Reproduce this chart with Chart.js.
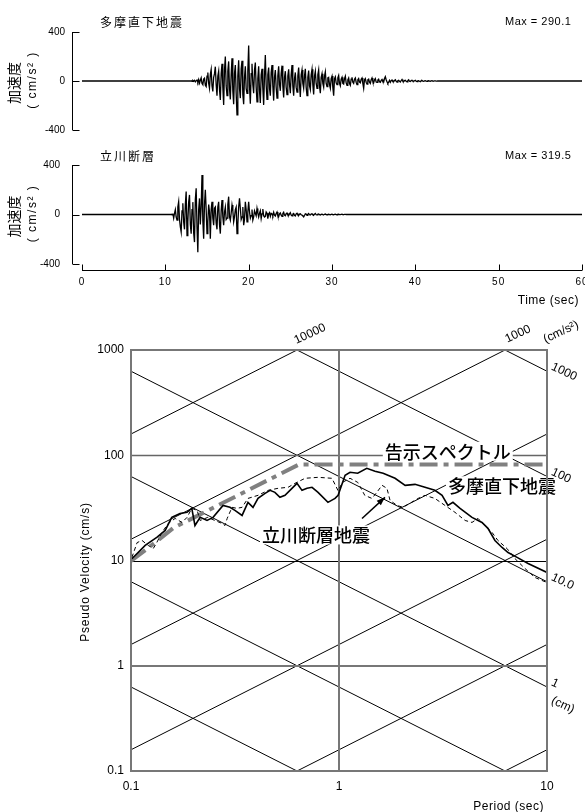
<!DOCTYPE html>
<html>
<head>
<meta charset="utf-8">
<script src="https://cdn.jsdelivr.net/npm/chart.js@4.4.1/dist/chart.umd.min.js"></script>
<style>
  body { margin: 0; background: #fff; }
  #wrap { position: relative; width: 585px; height: 812px; }
  canvas { position: absolute; left: 0; }
</style>
</head>
<body>
<div id="wrap">
  <canvas id="tama" width="585" height="140" style="top:0"></canvas>
  <canvas id="tachi" width="585" height="170" style="top:140px"></canvas>
  <canvas id="spec" width="585" height="502" style="top:310px"></canvas>
</div>
<script>
// ---- time histories (cm/s2), one value every 0.1 s from the start time ----
const dt = 0.1;
const tamaStart = 13.0;
const tamaAcc = [
  0, 2, -3, 4, -2, 5, -6, 3, 8, -10,
  12, -18, 6, 25, -20, -30, 15, 22, -35, -45,
  40, 70, -20, -60, 55, 95, -40, -85, 30, 60,
  117, -30, -120, 40, 80, -70, -155, 60, 140, -50,
  -196, 90, 200, -40, -120, 80, 160, -60, -150, 50,
  185, -80, -190, 60, 130, -100, -277, 40, 170, -60,
  -140, 100, 165, -110, -190, 30, 120, -60, -100, 80,
  290, -40, -185, 60, 140, -30, -100, 90, 150, -50,
  -170, 20, 120, -80, -180, 50, 100, -60, -195, 40,
  212, -30, -150, 50, 110, -60, -120, 70, 130, -40,
  -160, 30, 90, -50, -140, 40, 120, -30, -80, 60,
  125, -40, -135, 30, 80, -50, -110, 40, 95, -30,
  -100, 50, 130, -40, -120, 20, 70, -50, -90, 40,
  110, -30, -130, 50, 90, -20, -60, 40, 100, -50,
  -120, 30, 85, -40, -70, 50, 95, -30, -110, 40,
  80, -20, -60, 50, 90, -40, -100, 30, 60, -20,
  -50, 40, 75, -20, -45, 25, 30, -30, -60, 20,
  40, -50, -120, 20, 35, -15, -30, 25, 45, -20,
  -40, 15, 30, -20, -25, 20, 40, -15, -35, 10,
  25, -20, -35, 15, 30, -10, -20, 15, 25, -10,
  -30, 10, 20, -10, -15, 15, 25, -20, -60, 10,
  20, -10, -25, 10, 15, -10, -20, 10, 25, -5,
  -15, 10, 20, -8, -12, 8, 15, -6, -10, 5,
  12, -5, -8, 20, 35, 10, -6, -20, -10, 5,
  -10, 3, 8, -4, -6, 5, 10, -3, -8, 3,
  6, -3, -8, 4, 12, -2, -5, 3, 6, -2,
  -6, 4, 10, -2, -4, 3, 6, -2, -3, 2,
  5, -2, -4, 2, 3, -2, -5, 2, 4, -1,
  -3, 1, 2, -2, -3, 1, 2, -1, -2, 1,
  2, -1, -1, 1, 1, -1, -1, 0, 0, 0
];
const tachiStart = 10.6;
const tachiAcc = [
  0, 2, -3, 8,
  -30, 10, 40, -20, -45, 60, 103, -40, -100, -141,
  30, 90, -60, -120, 80, 185, -170, -60, 100, 158,
  -80, -155, 40, 100, -150, -223, 120, 212, -100, -305,
  40, 130, -80, 60, 320, -50, -196, 80, 199, 40,
  -155, -60, 80, 20, -196, 40, 103, -30, -87, 50,
  60, -70, -120, 60, 103, -80, -155, 30, 117, -20,
  -87, 20, 60, -40, -30, 80, 144, -20, -46, 10,
  76, 30, -60, -20, 40, 60, -155, -80, 60, 130,
  50, -40, -20, 60, -87, -40, 103, 40, -60, 20,
  103, 20, -30, -10, 40, -46, -20, 30, 10, -10,
  49, 10, -20, 10, 30, -33, 5, 44, -10, -20,
  -15, 20, 10, -33, 5, 15, -15, 10, 5, -10,
  18, -5, -12, 8, 20, -10, -18, 5, 12, -5,
  -15, 8, 18, -5, -10, 6, 12, -4, -8, 5,
  15, -5, -10, 4, 8, -6, -12, 5, 10, -3,
  -8, 3, 6, -2, -5, -12, -19, -8, 5, 3,
  -6, 2, 8, -2, -4, 3, 6, -2, -5, 2,
  8, -2, -3, 3, 5, -2, -4, 1, 3, -1,
  -3, 2, 4, -1, -2, 1, 3, -1, -2, 1,
  2, -1, -2, 1, 3, -1, -2, 1, 2, -1,
  -1, 1, 2, -1, -1, 1, 1, 0, 0, 0
];
const timeTicks = [0, 10, 20, 30, 40, 50, 60];
const accTicks = [400, 0, -400];

// ---- response spectra: period (sec) / pseudo velocity (cm/s) ----
const tamaT  = [0.101, 0.117, 0.133, 0.146, 0.157, 0.172, 0.186, 0.196, 0.203, 0.215, 0.232, 0.248, 0.277, 0.299, 0.316, 0.342, 0.365, 0.386, 0.408, 0.441, 0.466, 0.492, 0.520, 0.550, 0.594, 0.628, 0.664, 0.702, 0.742, 0.793, 0.885, 0.957, 0.99, 1.07, 1.13, 1.23, 1.36, 1.49, 1.63, 1.86, 2.08, 2.32, 2.59, 2.89, 3.13, 3.34, 3.53, 3.82, 4.36, 4.87, 5.20, 5.62, 6.08, 6.50, 7.18, 8.11, 10];
const tamaSv = [10.4, 13.9, 16.6, 19.3, 25.7, 28.0, 28.7, 31.3, 21.5, 25.7, 24.0, 25.7, 33.4, 32.0, 29.9, 26.8, 35.7, 32.0, 38.9, 43.4, 46.4, 44.4, 39.8, 41.6, 48.5, 54.1, 46.4, 48.5, 49.6, 44.4, 35.7, 38.9, 41.6, 64.5, 68.9, 67.4, 75.2, 70.5, 67.4, 60.4, 51.8, 52.9, 49.6, 46.4, 41.6, 33.4, 35.7, 31.3, 25.7, 23.0, 20.2, 15.5, 13.3, 11.9, 10.7, 9.36, 7.69];
const tachiT  = [0.101, 0.107, 0.113, 0.121, 0.128, 0.133, 0.141, 0.151, 0.163, 0.176, 0.186, 0.196, 0.208, 0.215, 0.234, 0.253, 0.274, 0.283, 0.290, 0.306, 0.323, 0.342, 0.365, 0.408, 0.456, 0.509, 0.569, 0.614, 0.687, 0.793, 0.925, 0.99, 1.04, 1.13, 1.23, 1.33, 1.44, 1.52, 1.61, 1.70, 1.76, 1.90, 2.03, 2.19, 2.40, 2.59, 2.89, 3.23, 3.61, 4.04, 4.36, 4.66, 5.03, 5.44, 5.81, 6.42, 7.02, 7.84, 8.76, 10];
const tachiSv = [10.7, 14.8, 15.5, 13.9, 13.0, 14.8, 18.5, 22.5, 25.1, 23.0, 25.7, 31.3, 29.9, 24.0, 25.7, 24.0, 22.5, 21.5, 25.1, 32.0, 31.3, 32.0, 38.9, 41.6, 46.4, 48.5, 49.6, 54.1, 60.4, 61.7, 60.4, 46.0, 55.3, 60.4, 55.3, 41.6, 38.9, 44.4, 51.8, 48.5, 37.2, 33.4, 32.0, 34.9, 38.9, 41.6, 38.9, 33.4, 28.7, 24.0, 23.0, 25.1, 21.5, 18.5, 15.5, 13.0, 10.4, 8.39, 6.89, 6.17];
const codeT  = [0.1, 0.13, 0.16, 0.64, 10];
const codeSv = [9.9, 14.7, 20.4, 81.5, 81.5];

const periodTicks = [0.1, 1, 10];
const periodLabels = ['0.1', '1', '10'];
const velTicks = [1000, 100, 10, 1, 0.1];
const velLabels = ['1000', '100', '10', '1', '0.1'];
const accLines = [0.1, 1, 10, 100, 1000, 10000];   // cm/s2
const dispLines = [0.01, 0.1, 1, 10, 100, 1000];   // cm
const accLabelVals = [10000, 1000];
const accLabels = ['10000', '1000'];
const dispLabelVals = [1000, 100, 10, 1];
const dispLabels = ['1000', '100', '10.0', '1'];

const TWO_PI = 2 * Math.PI;
const NUM_FONT = '"Liberation Sans", Arial, sans-serif';
const JP_FONT = '"Noto Sans CJK JP", sans-serif';

function series(start, acc) {
  const pts = [{ x: 0, y: 0 }];
  acc.forEach((v, i) => pts.push({ x: +(start + i * dt).toFixed(2), y: v }));
  pts.push({ x: 60, y: 0 });
  return pts;
}

// axes, titles and labels of a time history panel
const seismoAxes = {
  id: 'seismoAxes',
  afterDraw(chart, args, opt) {
    const { ctx, chartArea: a, scales: { x, y } } = chart;
    ctx.save();
    ctx.strokeStyle = '#000';
    ctx.lineWidth = 1;
    const ax = a.left - 9.5;
    ctx.beginPath();
    ctx.moveTo(ax, y.getPixelForValue(400));
    ctx.lineTo(ax, y.getPixelForValue(-400));
    accTicks.forEach(v => {
      const py = Math.round(y.getPixelForValue(v)) + 0.5;
      ctx.moveTo(ax, py);
      ctx.lineTo(ax + 7, py);
    });
    ctx.stroke();

    ctx.fillStyle = '#000';
    ctx.font = '10px ' + NUM_FONT;
    ctx.textAlign = 'right';
    ctx.textBaseline = 'middle';
    accTicks.forEach(v => ctx.fillText(String(v), a.left - opt.labelGap, y.getPixelForValue(v)));

    // titles
    ctx.textAlign = 'left';
    ctx.font = '12px ' + JP_FONT;
    ctx.letterSpacing = '2px';
    ctx.fillText(opt.title, 100, a.top - opt.rise);
    ctx.font = '11px ' + NUM_FONT;
    ctx.letterSpacing = '0.5px';
    ctx.fillText(opt.max, 505, a.top - opt.rise);

    // y title
    const yc = y.getPixelForValue(0) + 2;
    ctx.save();
    ctx.translate(14, yc);
    ctx.rotate(-Math.PI / 2);
    ctx.textAlign = 'center';
    ctx.font = '14px ' + JP_FONT;
    ctx.letterSpacing = '0px';
    ctx.fillText('加速度', 0, 0);
    ctx.restore();
    ctx.save();
    ctx.translate(33, yc - 3);
    ctx.rotate(-Math.PI / 2);
    ctx.textAlign = 'center';
    ctx.font = '12px ' + NUM_FONT;
    ctx.letterSpacing = '1.5px';
    ctx.fillText('( cm/s² )', 0, 0);
    ctx.restore();

    if (opt.timeAxis) {
      const ly = a.bottom + 6.5;
      ctx.beginPath();
      ctx.moveTo(x.getPixelForValue(0), ly);
      ctx.lineTo(x.getPixelForValue(60), ly);
      timeTicks.forEach(t => {
        const px = Math.round(x.getPixelForValue(t)) + 0.5;
        ctx.moveTo(px, ly);
        ctx.lineTo(px, ly - 6);
      });
      ctx.stroke();
      ctx.textAlign = 'center';
      ctx.font = '10px ' + NUM_FONT;
      ctx.letterSpacing = '1px';
      timeTicks.forEach(t => ctx.fillText(String(t), x.getPixelForValue(t), a.bottom + 18));
      ctx.textAlign = 'right';
      ctx.font = '12px ' + NUM_FONT;
      ctx.letterSpacing = '0.5px';
      ctx.fillText('Time (sec)', x.getPixelForValue(60) - 3, a.bottom + 37);
    }
    ctx.restore();
  }
};

function seismoChart(id, pts, pad, opt) {
  return new Chart(document.getElementById(id), {
    type: 'line',
    data: { datasets: [{ data: pts, borderColor: '#000', borderWidth: 1.3, pointRadius: 0, tension: 0 }] },
    options: {
      responsive: false,
      animation: false,
      events: [],
      layout: { padding: pad },
      scales: {
        x: { type: 'linear', min: 0, max: 60, display: false },
        y: { type: 'linear', min: -400, max: 400, display: false }
      },
      plugins: { legend: { display: false }, tooltip: { enabled: false }, seismoAxes: opt }
    },
    plugins: [seismoAxes]
  });
}

seismoChart('tama', series(tamaStart, tamaAcc),
  { left: 82, right: 3, top: 32, bottom: 10 },
  { title: '多摩直下地震', max: 'Max = 290.1', rise: 10, labelGap: 17, timeAxis: false });
seismoChart('tachi', series(tachiStart, tachiAcc),
  { left: 82, right: 3, top: 25, bottom: 46 },
  { title: '立川断層', max: 'Max = 319.5', rise: 9, labelGap: 22, timeAxis: true });

// ---- tripartite grid for the spectrum ----
function boxText(ctx, text, x, y) {
  const w = ctx.measureText(text).width;
  ctx.fillStyle = '#fff';
  ctx.fillRect(x - 2, y - 10, w + 4, 19);
  ctx.fillStyle = '#000';
  ctx.fillText(text, x, y);
}

const specGrid = {
  id: 'specGrid',
  beforeDatasetsDraw(chart) {
    const { ctx, chartArea: a, scales: { x, y } } = chart;
    const P = (t, v) => [x.getPixelForValue(t), y.getPixelForValue(v)];
    ctx.save();
    ctx.beginPath();
    ctx.rect(a.left, a.top, a.right - a.left, a.bottom - a.top);
    ctx.clip();
    ctx.strokeStyle = '#000';
    ctx.lineWidth = 1;
    ctx.beginPath();
    accLines.forEach(sa => {
      ctx.moveTo(...P(0.1, sa * 0.1 / TWO_PI));
      ctx.lineTo(...P(10, sa * 10 / TWO_PI));
    });
    dispLines.forEach(sd => {
      ctx.moveTo(...P(0.1, TWO_PI * sd / 0.1));
      ctx.lineTo(...P(10, TWO_PI * sd / 10));
    });
    ctx.stroke();
    // horizontal and vertical lines
    [[10, '#000', 1], [1, '#777', 2], [100, '#666', 1.5]].forEach(([v, c, w]) => {
      const py = Math.round(y.getPixelForValue(v)) + (w === 2 ? 0 : 0.5);
      ctx.strokeStyle = c; ctx.lineWidth = w;
      ctx.beginPath(); ctx.moveTo(a.left, py); ctx.lineTo(a.right, py); ctx.stroke();
    });
    ctx.strokeStyle = '#777'; ctx.lineWidth = 2;
    const vx = Math.round(x.getPixelForValue(1));
    ctx.beginPath(); ctx.moveTo(vx, a.top); ctx.lineTo(vx, a.bottom); ctx.stroke();
    ctx.restore();

    // labels of the curves
    ctx.save();
    ctx.font = '500 18px ' + JP_FONT;
    ctx.textBaseline = 'middle';
    ctx.textAlign = 'left';
    boxText(ctx, '告示スペクトル', ...P(1.66, 108));
    boxText(ctx, '多摩直下地震', ...P(3.34, 50.7));
    boxText(ctx, '立川断層地震', ...P(0.426, 17.3));
    ctx.restore();
  },
  afterDatasetsDraw(chart) {
    const { ctx, chartArea: a, scales: { x, y } } = chart;
    const P = (t, v) => [x.getPixelForValue(t), y.getPixelForValue(v)];
    ctx.save();
    // arrow to the dashed curve
    const [x0, y0] = P(1.29, 25.1), [x1, y1] = P(1.664, 39.8);
    ctx.strokeStyle = '#000'; ctx.fillStyle = '#000'; ctx.lineWidth = 1.5;
    ctx.beginPath(); ctx.moveTo(x0, y0); ctx.lineTo(x1, y1); ctx.stroke();
    const ang = Math.atan2(y1 - y0, x1 - x0);
    ctx.beginPath();
    ctx.moveTo(x1, y1);
    ctx.lineTo(x1 - 9 * Math.cos(ang - 0.35), y1 - 9 * Math.sin(ang - 0.35));
    ctx.lineTo(x1 - 9 * Math.cos(ang + 0.35), y1 - 9 * Math.sin(ang + 0.35));
    ctx.closePath(); ctx.fill();

    // frame
    ctx.strokeStyle = '#777'; ctx.lineWidth = 2;
    ctx.strokeRect(a.left, a.top, a.right - a.left, a.bottom - a.top);

    // tick labels
    ctx.fillStyle = '#000';
    ctx.font = '12px ' + NUM_FONT;
    ctx.textBaseline = 'middle';
    ctx.textAlign = 'right';
    velTicks.forEach((v, i) => ctx.fillText(velLabels[i], a.left - 7, y.getPixelForValue(v)));
    ctx.textAlign = 'center';
    periodTicks.forEach((t, i) => ctx.fillText(periodLabels[i], x.getPixelForValue(t), a.bottom + 16));
    ctx.textAlign = 'right';
    ctx.letterSpacing = '0.5px';
    ctx.fillText('Period (sec)', a.right - 3, a.bottom + 36);
    ctx.save();
    ctx.translate(86, a.top + 222);
    ctx.rotate(-Math.PI / 2);
    ctx.textAlign = 'center';
    ctx.letterSpacing = '0.8px';
    ctx.fillText('Pseudo Velocity (cm/s)', 0, 0);
    ctx.restore();
    ctx.letterSpacing = '0px';

    // acceleration labels on top, displacement labels on the right
    const rot = 25 * Math.PI / 180;
    ctx.textAlign = 'center';
    accLabelVals.forEach((sa, i) => {
      const px = x.getPixelForValue(TWO_PI * 1000 / sa);
      ctx.save(); ctx.translate(px + 13, a.top - 16); ctx.rotate(-rot);
      ctx.fillText(accLabels[i], 0, 0); ctx.restore();
    });
    ctx.save(); ctx.translate(x.getPixelForValue(TWO_PI) + 56, a.top - 18); ctx.rotate(-rot);
    ctx.fillText('(cm/s²)', 0, 0); ctx.restore();
    ctx.textAlign = 'left';
    dispLabelVals.forEach((sd, i) => {
      const py = y.getPixelForValue(TWO_PI * sd / 10);
      ctx.save(); ctx.translate(a.right + 5, py - 5); ctx.rotate(rot);
      ctx.fillText(dispLabels[i], 0, 0); ctx.restore();
    });
    ctx.save(); ctx.translate(a.right + 5, y.getPixelForValue(TWO_PI / 10) + 13); ctx.rotate(rot);
    ctx.fillText('(cm)', 0, 0); ctx.restore();
    ctx.restore();
  }
};

const pairs = (ts, vs) => ts.map((t, i) => ({ x: t, y: vs[i] }));

new Chart(document.getElementById('spec'), {
  type: 'line',
  data: {
    datasets: [
      { label: '告示スペクトル', data: pairs(codeT, codeSv), borderColor: '#808080', borderWidth: 4, borderDash: [18, 6, 5, 6], order: 3 },
      { label: '立川断層地震', data: pairs(tachiT, tachiSv), borderColor: '#000', borderWidth: 1, borderDash: [4, 3], order: 2 },
      { label: '多摩直下地震', data: pairs(tamaT, tamaSv), borderColor: '#000', borderWidth: 1.6, order: 1 }
    ]
  },
  options: {
    responsive: false,
    animation: false,
    events: [],
    layout: { padding: { left: 131, right: 38, top: 40, bottom: 41 } },
    elements: { point: { radius: 0 }, line: { tension: 0 } },
    scales: {
      x: { type: 'logarithmic', min: 0.1, max: 10, display: false },
      y: { type: 'logarithmic', min: 0.1, max: 1000, display: false }
    },
    plugins: { legend: { display: false }, tooltip: { enabled: false } }
  },
  plugins: [specGrid]
});
</script>
</body>
</html>
